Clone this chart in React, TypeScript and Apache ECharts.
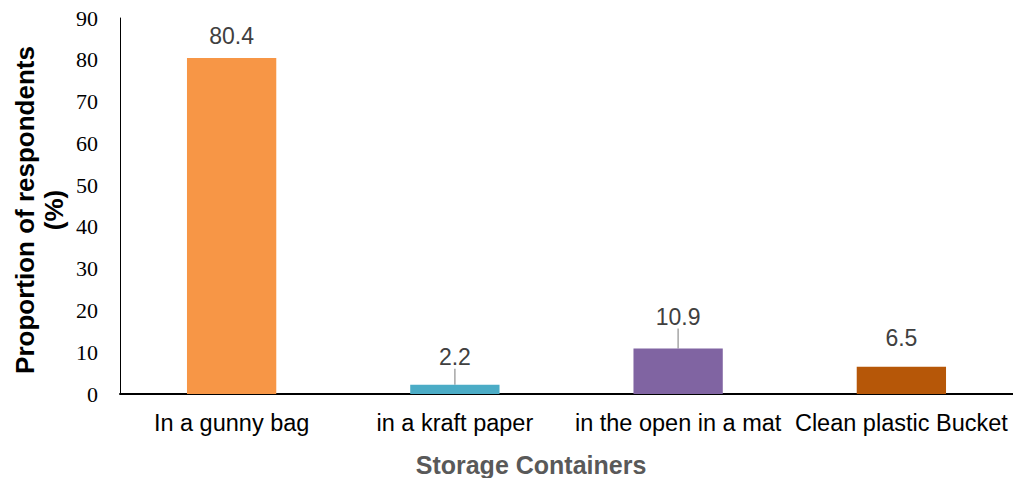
import React, { useEffect, useRef } from "react";
import * as echarts from "echarts";

const categories = ["In a gunny bag", "in a kraft paper", "in the open in a mat", "Clean plastic Bucket"];
const values = [80.4, 2.2, 10.9, 6.5];
const barColors = ["#F79646", "#4BACC6", "#8064A2", "#B65708"];
const labelShift = [-6, -11, -15, -12];
const showLine = [false, true, true, false];

export default function App() {
  const ref = useRef<HTMLDivElement>(null);
  useEffect(() => {
    document.body.style.margin = "0";
    const chart = echarts.init(ref.current!, null, { renderer: "svg" });
    chart.setOption({
      animation: false,
      grid: { left: 120, right: 0, top: 18, bottom: 84 },
      xAxis: {
        type: "category",
        data: categories,
        axisLine: { lineStyle: { color: "#000", width: 2 } },
        axisTick: { show: false },
        axisLabel: {
          color: "#000",
          fontFamily: "Liberation Sans, Arial, sans-serif",
          fontSize: 23.5,
          margin: 17,
          interval: 0,
        },
      },
      yAxis: {
        type: "value",
        min: 0,
        max: 90,
        interval: 10,
        splitLine: { show: false },
        axisLine: { show: true, lineStyle: { color: "#000", width: 1 } },
        axisTick: { show: false },
        axisLabel: {
          color: "#000",
          fontFamily: "Liberation Serif, Times New Roman, serif",
          fontSize: 22,
          margin: 22,
        },
      },
      graphic: [
        {
          type: "text",
          x: 39,
          y: 210,
          rotation: Math.PI / 2,
          style: {
            text: "Proportion of respondents\n(%)",
            fill: "#000",
            font: "bold 26px 'Liberation Sans', Arial, sans-serif",
            align: "center",
            verticalAlign: "middle",
            lineHeight: 29,
          },
        },
        {
          type: "text",
          x: 531,
          y: 465,
          style: {
            text: "Storage Containers",
            fill: "#595959",
            font: "bold 25px 'Liberation Sans', Arial, sans-serif",
            align: "center",
            verticalAlign: "middle",
          },
        },
      ],
      series: [
        {
          type: "bar",
          barWidth: "40%",
          data: values.map((v, i) => ({
            value: v,
            itemStyle: { color: barColors[i] },
            labelLine: { show: showLine[i], lineStyle: { color: "#A6A6A6", width: 1.5 } },
          })),
          label: {
            show: true,
            position: "top",
            distance: 5,
            color: "#404040",
            fontFamily: "Liberation Sans, Arial, sans-serif",
            fontSize: 23,
          },
          labelLayout: (params: any) => ({ dy: labelShift[params.dataIndex] }),
        },
      ],
    });
    return () => chart.dispose();
  }, []);
  return <div ref={ref} style={{ width: 1013, height: 478 }} />;
}
